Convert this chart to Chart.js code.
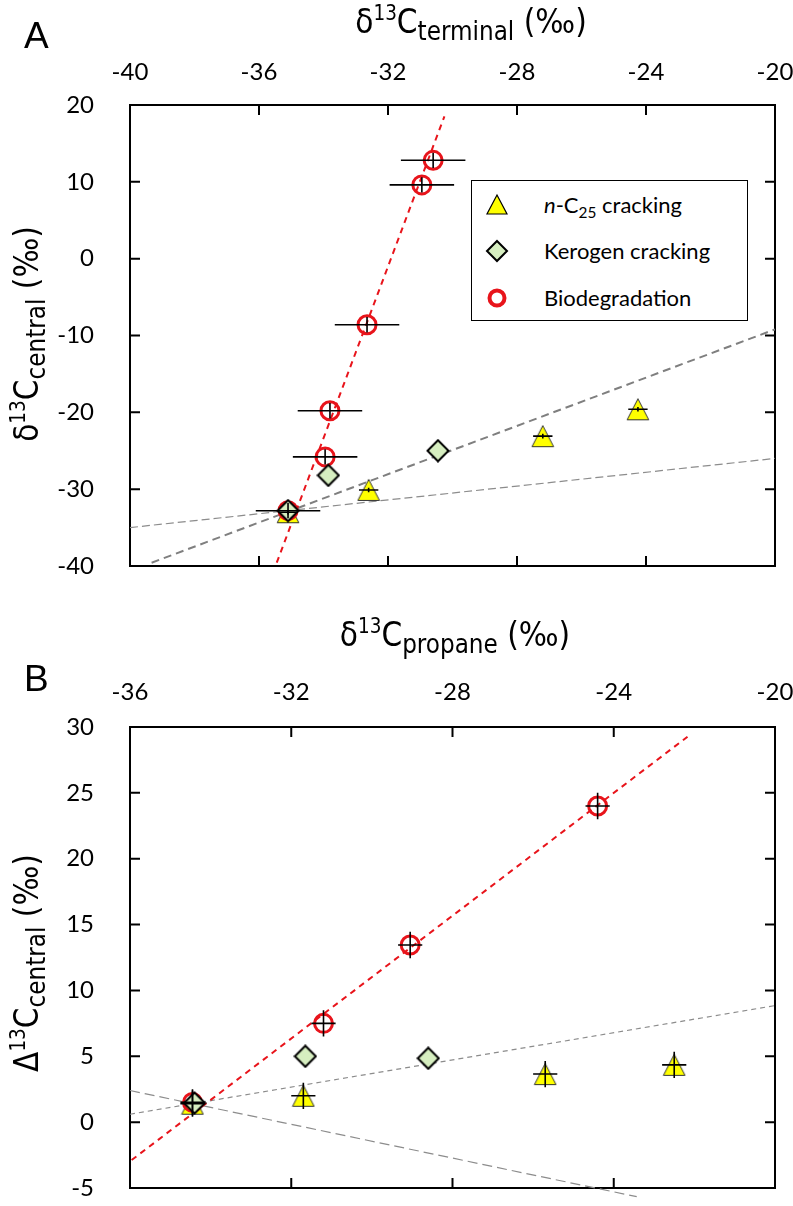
<!DOCTYPE html>
<html><head><meta charset="utf-8">
<script src="https://cdn.jsdelivr.net/npm/chart.js@4.4.0/dist/chart.umd.min.js"></script>
<style>
html,body{margin:0;padding:0;background:#fff;width:793px;height:1206px;overflow:hidden;position:relative;}
canvas{position:absolute;left:0;}
#c1{top:0;} #c2{top:600px;}
.ttl{position:absolute;font-family:"Liberation Sans Narrow","DejaVu Sans Condensed","Liberation Sans",sans-serif;font-size:33px;color:#000;white-space:nowrap;line-height:1;}
.ttl sup{font-size:62%;vertical-align:0.62em;line-height:0;}
.ttl sub{font-size:78%;vertical-align:-0.28em;line-height:0;}
.panel{position:absolute;font-family:"Liberation Sans",Arial,sans-serif;font-size:37px;line-height:1;color:#000;}
#legend{position:absolute;left:471px;top:180px;width:275px;height:139px;border:1.5px solid #000;background:#fff;font-family:Lato,sans-serif;font-size:22px;color:#000;}
#legend .row{position:absolute;left:0;width:100%;height:30px;}
#legend svg{position:absolute;left:13px;top:3px;}
#legend .t{position:absolute;left:72px;top:2px;line-height:26px;white-space:nowrap;}
#legend sub{font-size:70%;vertical-align:-0.3em;line-height:0;}
</style>
</head><body>
<canvas id="c1" width="793" height="600"></canvas>
<canvas id="c2" width="793" height="606"></canvas>

<div class="panel" style="left:24px;top:17px;">A</div>
<div class="panel" style="left:24px;top:660px;">B</div>

<div class="ttl" id="t1" style="left:471px;top:5px;transform:translateX(-50%);">&delta;<sup>13</sup>C<sub>terminal</sub> (&permil;)</div>
<div class="ttl" id="y1" style="left:26px;top:334px;transform:translate(-50%,-50%) rotate(-90deg);">&delta;<sup>13</sup>C<sub>central</sub> (&permil;)</div>
<div class="ttl" id="t2" style="left:455px;top:618px;transform:translateX(-50%);">&delta;<sup>13</sup>C<sub>propane</sub> (&permil;)</div>
<div class="ttl" id="y2" style="left:26px;top:963px;transform:translate(-50%,-50%) rotate(-90deg);">&Delta;<sup>13</sup>C<sub>central</sub> (&permil;)</div>

<div id="legend">
  <div class="row" style="top:9px;">
    <svg width="24" height="24"><polygon points="12,2 22,21 2,21" fill="#ffff00" stroke="#000" stroke-width="1.2"/></svg>
    <span class="t"><i>n</i>-C<sub>25</sub> cracking</span>
  </div>
  <div class="row" style="top:55px;">
    <svg width="24" height="24"><polygon points="12,2 22,12 12,22 2,12" fill="#d6eec0" stroke="#000" stroke-width="2"/></svg>
    <span class="t">Kerogen cracking</span>
  </div>
  <div class="row" style="top:102px;">
    <svg width="24" height="24"><circle cx="12" cy="12" r="7.5" fill="none" stroke="#e8141b" stroke-width="4"/></svg>
    <span class="t">Biodegradation</span>
  </div>
</div>

<script>
// ---------- Panel A data ----------
const aXTicks = [-40, -36, -32, -28, -24, -20];
const aYTicks = [-40, -30, -20, -10, 0, 10, 20];
const aTriX = [-35.1, -32.6, -27.2, -24.25];
const aTriY = [-33.0, -30.1, -23.1, -19.6];
const aTriXErr = [0.3, 0.3, 0.3, 0.3];
const aTriYErr = [0.3, 0.3, 0.3, 0.3];
const aDiaX = [-35.1, -33.85, -30.45];
const aDiaY = [-32.8, -28.2, -25.0];
const aBioX = [-35.1, -33.95, -33.8, -32.65, -30.95, -30.6];
const aBioY = [-32.8, -25.8, -19.8, -8.6, 9.6, 12.8];
const aBioXErr = [1.0, 1.0, 1.0, 1.0, 1.0, 1.0];
const aBioYErr = [1.0, 1.0, 1.0, 1.0, 1.0, 1.0];
const aRedLineX = [-35.45, -30.25];
const aRedLineY = [-39.57, 18.53];
const aGrayLine1X = [-39.33, -20];
const aGrayLine1Y = [-39.57, -9.2];
const aGrayLine2X = [-40, -20];
const aGrayLine2Y = [-35.0, -26.0];

// ---------- Panel B data ----------
const bXTicks = [-36, -32, -28, -24, -20];
const bYTicks = [-5, 0, 5, 10, 15, 20, 25, 30];
const bTriX = [-34.45, -31.7, -25.7, -22.5];
const bTriY = [1.4, 2.0, 3.65, 4.35];
const bTriXErr = [0.3, 0.3, 0.3, 0.3];
const bTriYErr = [1.0, 1.0, 1.0, 1.0];
const bDiaX = [-34.4, -31.65, -28.6];
const bDiaY = [1.45, 5.0, 4.85];
const bBioX = [-34.45, -31.2, -29.05, -24.4];
const bBioY = [1.5, 7.5, 13.45, 24.0];
const bBioXErr = [0.3, 0.3, 0.3, 0.3];
const bBioYErr = [1.0, 1.0, 1.0, 1.0];
const bRedLineX = [-35.96, -22.17];
const bRedLineY = [-2.88, 29.26];
const bGrayLine1X = [-36, -20];
const bGrayLine1Y = [0.6, 8.85];
const bGrayLine2X = [-36, -23.43];
const bGrayLine2Y = [2.4, -5.66];

function triImg(){
  const c=document.createElement('canvas'); c.width=24; c.height=24;
  const g=c.getContext('2d');
  g.beginPath(); g.moveTo(12,1.5); g.lineTo(22.8,22.5); g.lineTo(1.2,22.5); g.closePath();
  g.fillStyle='#ffff00'; g.fill(); g.strokeStyle='#333'; g.lineWidth=1; g.stroke();
  return c;
}
function diaImg(){
  const c=document.createElement('canvas'); c.width=24; c.height=24;
  const g=c.getContext('2d');
  g.beginPath(); g.moveTo(12,1.5); g.lineTo(22.5,12); g.lineTo(12,22.5); g.lineTo(1.5,12); g.closePath();
  g.fillStyle='#d6eec0'; g.fill(); g.strokeStyle='#000'; g.lineWidth=2; g.stroke();
  return c;
}
const TRI = triImg(), DIA = diaImg();

const pts = (xs, ys) => xs.map((x,i)=>({x, y: ys[i]}));

const framePlugin = {
  id:'frame',
  beforeDatasetsDraw(chart){
    const {ctx, chartArea:a, scales:{x,y}} = chart;
    ctx.save();
    ctx.strokeStyle='#000'; ctx.lineWidth=2;
    ctx.strokeRect(a.left, a.top, a.right-a.left, a.bottom-a.top);
    const L=10;
    ctx.beginPath();
    x.ticks.forEach(t=>{const p=x.getPixelForValue(t.value); ctx.moveTo(p,a.top); ctx.lineTo(p,a.top+L); ctx.moveTo(p,a.bottom); ctx.lineTo(p,a.bottom-L);});
    y.ticks.forEach(t=>{const p=y.getPixelForValue(t.value); ctx.moveTo(a.left,p); ctx.lineTo(a.left+L,p); ctx.moveTo(a.right,p); ctx.lineTo(a.right-L,p);});
    ctx.stroke(); ctx.restore();
  }
};
const errPlugin = {
  id:'err',
  afterDatasetsDraw(chart){
    const {ctx, scales:{x,y}} = chart;
    ctx.save(); ctx.strokeStyle='#000'; ctx.lineWidth=1.6;
    chart.data.datasets.forEach(ds=>{
      if(!ds.errX) return;
      ds.data.forEach((p,i)=>{
        const px=x.getPixelForValue(p.x), py=y.getPixelForValue(p.y);
        ctx.beginPath();
        ctx.moveTo(x.getPixelForValue(p.x-ds.errX[i]),py); ctx.lineTo(x.getPixelForValue(p.x+ds.errX[i]),py);
        ctx.moveTo(px,y.getPixelForValue(p.y-ds.errY[i])); ctx.lineTo(px,y.getPixelForValue(p.y+ds.errY[i]));
        ctx.stroke();
      });
    });
    ctx.restore();
  }
};

Chart.defaults.font.family = 'Lato, sans-serif';

function lineDs(xs, ys, color, width, dash, clip){
  return {data: pts(xs,ys), showLine:true, pointRadius:0, borderColor:color, borderWidth:width, borderDash:dash, fill:false, order:10, clip: clip};
}
function markerSets(triX,triY,triXE,triYE,diaX,diaY,bioX,bioY,bioXE,bioYE){
  return [
    {data:pts(triX,triY), pointStyle:TRI, pointRadius:12, order:3, errX:triXE, errY:triYE},
    {data:pts(bioX,bioY), pointStyle:'circle', pointRadius:9, borderWidth:3, borderColor:'#e8141b', backgroundColor:'rgba(0,0,0,0)', order:2, errX:bioXE, errY:bioYE},
    {data:pts(diaX,diaY), pointStyle:DIA, pointRadius:12, order:1}
  ];
}
function zeroPad(s){ s.paddingLeft=0; s.paddingRight=0; s.paddingTop=0; s.paddingBottom=0; }
function scaleOpts(xmin,xmax,xstep,ymin,ymax,ystep,xh,xpad){
  return {
    x:{type:'linear', position:'top', min:xmin, max:xmax,
       ticks:{stepSize:xstep, color:'#000', font:{size:24}, padding:xpad},
       grid:{display:false}, border:{display:false}, afterFit(s){s.height=xh; zeroPad(s);}},
    y:{type:'linear', position:'left', min:ymin, max:ymax,
       ticks:{stepSize:ystep, color:'#000', font:{size:24}, padding:28},
       grid:{display:false}, border:{display:false}, afterFit(s){s.width=130; zeroPad(s);}}
  };
}

new Chart(document.getElementById('c1'), {
  type:'scatter',
  data:{datasets:[
    lineDs(aRedLineX, aRedLineY, '#e8141b', 2, [6,5], true),
    lineDs(aGrayLine1X, aGrayLine1Y, '#7f7f7f', 2, [8,5], true),
    lineDs(aGrayLine2X, aGrayLine2Y, '#8c8c8c', 1.2, [8,4], true),
    ...markerSets(aTriX,aTriY,aTriXErr,aTriYErr,aDiaX,aDiaY,aBioX,aBioY,aBioXErr,aBioYErr)
  ]},
  options:{
    responsive:false, animation:false, events:[],
    layout:{autoPadding:false, padding:{left:0,right:18,top:0,bottom:34}},
    plugins:{legend:{display:false}, tooltip:{enabled:false}},
    scales:scaleOpts(aXTicks[0], aXTicks[aXTicks.length-1], aXTicks[1]-aXTicks[0], aYTicks[0], aYTicks[aYTicks.length-1], aYTicks[1]-aYTicks[0], 105, 10)
  },
  plugins:[framePlugin, errPlugin]
});

new Chart(document.getElementById('c2'), {
  type:'scatter',
  data:{datasets:[
    lineDs(bRedLineX, bRedLineY, '#e8141b', 2, [6,5], true),
    lineDs(bGrayLine1X, bGrayLine1Y, '#8c8c8c', 1.2, [5,4], true),
    lineDs(bGrayLine2X, bGrayLine2Y, '#8c8c8c', 1.2, [10,5], false),
    ...markerSets(bTriX,bTriY,bTriXErr,bTriYErr,bDiaX,bDiaY,bBioX,bBioY,bBioXErr,bBioYErr)
  ]},
  options:{
    responsive:false, animation:false, events:[],
    layout:{autoPadding:false, padding:{left:0,right:18,top:0,bottom:18}},
    plugins:{legend:{display:false}, tooltip:{enabled:false}},
    scales:scaleOpts(bXTicks[0], bXTicks[bXTicks.length-1], bXTicks[1]-bXTicks[0], bYTicks[0], bYTicks[bYTicks.length-1], bYTicks[1]-bYTicks[0], 127, 12)
  },
  plugins:[framePlugin, errPlugin]
});
</script>
</body></html>
